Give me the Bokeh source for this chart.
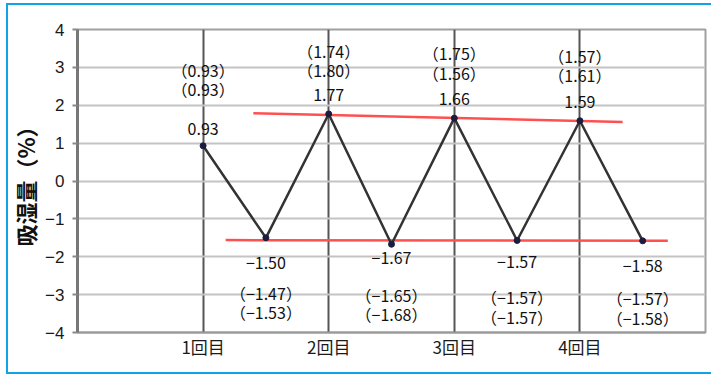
from bokeh.plotting import figure
from bokeh.models import Range1d, FixedTicker, Label, InlineStyleSheet
from bokeh.embed import file_html
from bokeh.resources import INLINE

# --- data -------------------------------------------------------------
rounds = ["1回目", "2回目", "3回目", "4回目"]
# moisture uptake (%) per step: absorption, then desorption, for each round
mean_uptake = [0.93, -1.50, 1.77, -1.67, 1.66, -1.57, 1.59, -1.58]
sample_a = [0.93, -1.47, 1.74, -1.65, 1.75, -1.57, 1.57, -1.57]
sample_b = [0.93, -1.53, 1.80, -1.68, 1.56, -1.57, 1.61, -1.58]

# red trend lines (x in round units, y in %)
upper_trend_x = [1.40, 4.34]
upper_trend_y = [1.79, 1.56]
lower_trend_x = [1.18, 4.70]
lower_trend_y = [-1.56, -1.58]

y_ticks = [-4, -3, -2, -1, 0, 1, 2, 3, 4]

# --- layout helpers -----------------------------------------------------
step_x = [1 + 0.5 * i for i in range(len(mean_uptake))]
value_label_offset = [17, -25, 19, -14, 19, -22, 19, -25]      # px
paren_row1_y = [2.92, -2.97, 3.42, -3.00, 3.39, -3.05, 3.29, -3.10]
paren_row2_y = [2.44, -3.47, 2.92, -3.50, 2.86, -3.58, 2.79, -3.61]

LABEL_FONT = "Noto Sans CJK JP"
BLUE = "#10a3e6"

# blue outer frame of the page, drawn over the canvas
frame_css = InlineStyleSheet(css=f"""
:host {{ position: relative; overflow: hidden; }}
:host::after {{
  content: ""; position: absolute; left: 6px; top: 3px;
  width: 740px; height: 371px; box-sizing: border-box;
  border: 2.5px solid {BLUE}; pointer-events: none;
}}
""")


def fmt(v):
    return f"{v:.2f}".replace("-", "\u2212")


p = figure(
    width=711, height=376,
    output_backend="svg", toolbar_location=None,
    x_range=Range1d(0, 5), y_range=Range1d(-4, 4),
    min_border_left=77, min_border_right=6,
    min_border_top=29, min_border_bottom=44,
    background_fill_color="white", border_fill_color="white",
    stylesheets=[frame_css],
)

# frame
p.outline_line_color = "#a0a0a0"
p.outline_line_width = 2

# grid
p.xgrid.ticker = FixedTicker(ticks=[1, 2, 3, 4])
p.xgrid.grid_line_color = "#555555"
p.xgrid.grid_line_width = 2
p.ygrid.ticker = FixedTicker(ticks=[-3, -2, -1, 0, 1, 2, 3])
p.ygrid.grid_line_color = "#c4c4c4"
p.ygrid.grid_line_width = 2

# x axis
p.xaxis.ticker = FixedTicker(ticks=[1, 2, 3, 4])
p.xaxis.major_label_overrides = {i + 1: r for i, r in enumerate(rounds)}
p.xaxis.major_tick_line_color = None
p.xaxis.major_tick_out = 0
p.xaxis.major_tick_in = 0
p.xaxis.minor_tick_line_color = None
p.xaxis.minor_tick_out = 0
p.xaxis.axis_line_color = "#9a9a9a"
p.xaxis.axis_line_width = 2
p.xaxis.major_label_standoff = 1
p.xaxis.major_label_text_font = LABEL_FONT
p.xaxis.major_label_text_font_size = "17px"
p.xaxis.major_label_text_color = "#1a1a1a"

# y axis
p.yaxis.ticker = FixedTicker(ticks=y_ticks)
p.yaxis.major_label_overrides = {t: str(t).replace("-", "\u2212") for t in y_ticks}
p.yaxis.minor_tick_line_color = None
p.yaxis.major_tick_out = 5
p.yaxis.major_tick_in = 0
p.yaxis.major_tick_line_color = "#888888"
p.yaxis.major_tick_line_width = 2
p.yaxis.axis_line_color = "#777777"
p.yaxis.axis_line_width = 3
p.yaxis.major_label_standoff = 8
p.yaxis.major_label_text_font = "Liberation Sans"
p.yaxis.major_label_text_font_size = "17px"
p.yaxis.major_label_text_color = "#1a1a1a"
p.yaxis.axis_label = "吸湿量（%）"
p.yaxis.axis_label_text_font = LABEL_FONT
p.yaxis.axis_label_text_font_size = "22px"
p.yaxis.axis_label_text_font_style = "bold"
p.yaxis.axis_label_text_color = "#111111"
p.yaxis.axis_label_standoff = 1

# trend lines
p.line(upper_trend_x, upper_trend_y, line_color="#ff5050", line_width=2.5)
p.line(lower_trend_x, lower_trend_y, line_color="#ff5050", line_width=2.5)

# measurement series
p.line(step_x, mean_uptake, line_color="#333333", line_width=2.5)
p.scatter(step_x, mean_uptake, size=6, fill_color="#1c1c40", line_color="#1c1c40")

# value labels and the two sample values in parentheses:
# white boxes first (so they never hide neighbouring text), then the text
labels = []
for x, v, a, b, off, y1, y2 in zip(step_x, mean_uptake, sample_a, sample_b,
                                   value_label_offset, paren_row1_y, paren_row2_y):
    labels.append(dict(x=x, y=v, y_offset=off, text=fmt(v)))
    labels.append(dict(x=x, y=y1, y_offset=0, text="（" + fmt(a) + "）"))
    labels.append(dict(x=x, y=y2, y_offset=0, text="（" + fmt(b) + "）"))

common = dict(x_units="data", y_units="data", text_align="center",
              text_baseline="middle", text_font=LABEL_FONT,
              text_font_size="16px", text_color="#111111")
for lb in labels:
    p.add_layout(Label(**lb, **common, text_alpha=0,
                       background_fill_color="white",
                       padding=dict(left=8, right=8, top=4, bottom=4)))
for lb in labels:
    p.add_layout(Label(**lb, **common))

open("out.html", "w").write(file_html(p, INLINE))
